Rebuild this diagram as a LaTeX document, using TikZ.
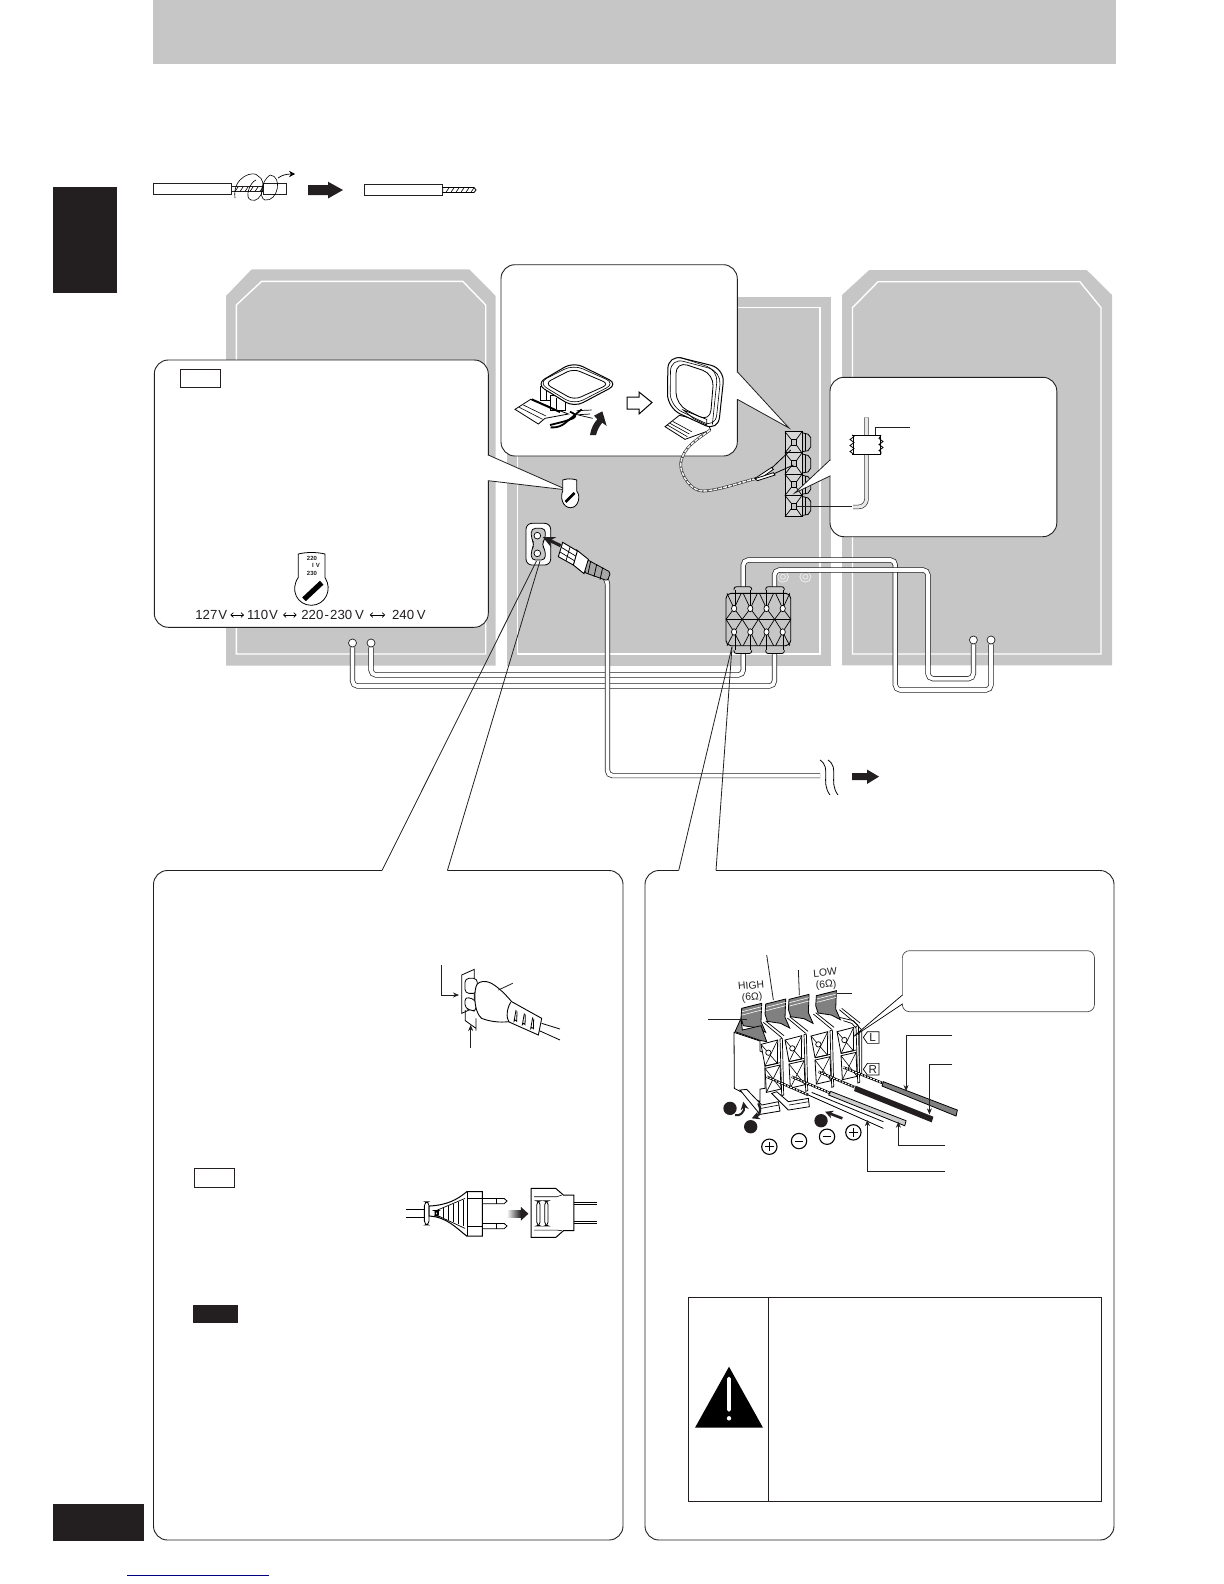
\documentclass[tikz,border=0pt]{standalone}
\usepackage{fontspec}
\setmainfont{Liberation Sans}
\usetikzlibrary{arrows.meta,decorations.pathmorphing}
\definecolor{panelgray}{HTML}{C6C6C6}
\definecolor{inkblack}{HTML}{231F20}
\begin{document}
\begin{tikzpicture}[x=0.5pt,y=-0.5pt,line cap=butt,
    box/.style={draw=inkblack,line width=0.45pt,fill=white,rounded corners=7pt},
    wedge/.style={draw=inkblack,line width=0.4pt},
    cable/.style={draw=inkblack,line width=0.35pt,double=white,double distance=1.9pt,rounded corners=2.5pt},
    leader/.style={draw=inkblack,line width=0.4pt},
    tagbox/.style={draw=inkblack,line width=0.5pt,fill=white},
    bigarrow/.style={fill=inkblack,draw=none},
    jack/.style={circle,draw=inkblack,fill=white,line width=0.35pt,inner sep=0pt,minimum size=4pt},
    valtext/.style={inner sep=0pt,font=\fontsize{6.6}{8}\selectfont,text=inkblack},
    termtext/.style={inner sep=0pt,font=\fontsize{3}{3.5}\bfseries\selectfont,text=inkblack,align=center},
    tagtext/.style={inner sep=0pt,font=\fontsize{5.8}{6.5}\selectfont,text=inkblack},
    ohmtext/.style={inner sep=0pt,rotate=5,align=center,font=\fontsize{5.2}{5.8}\selectfont,text=inkblack},
    numdot/.style={fill=inkblack,draw=none},
    third/.style={x=0.1667pt,y=-0.1667pt},
    headtip/.style={-{Stealth[length=3pt,width=2.5pt]}}]
\useasboundingbox (0,0) rectangle (1224,1584);
% page bands
\fill[panelgray] (153,0) rectangle (1116,64);
\fill[inkblack] (52.5,187) rectangle (117,293);
\fill[inkblack] (52.5,1504) rectangle (143.5,1541);
\draw[blue!50!black,line width=0.5pt] (127,1575) -- (269,1575);

% stripping the wire
\draw[tagbox,line width=0.4pt] (153,183.3) rectangle (231.7,194.3);
\draw[tagbox,line width=0.4pt] (231.7,186.7) rectangle (263.3,191.7);
\foreach \i in {0,...,5} \draw[line width=0.3pt] (235+\i*5,191.5) -- (238+\i*5,187);
\draw[tagbox,line width=0.4pt] (263.3,183.3) rectangle (286.7,194.3);
\draw[line width=0.3pt] (235,198) .. controls (232,176) and (255,170) .. (258,176);
\draw[line width=0.3pt] (258,176) .. controls (268,180) and (262,204) .. (251,200) .. controls (244,198) and (250,182) .. (256,180);
\draw[line width=0.3pt] (270,175) .. controls (283,176) and (278,202) .. (265,200) .. controls (258,198) and (262,180) .. (270,175);
\draw[line width=0.35pt,-{Stealth[length=3pt,width=3.2pt]}] (278,178) .. controls (282,175) and (287,174) .. (295,174);
\fill[bigarrow] (308,185) -- (328,185) -- (328,181.7) -- (343,190) -- (328,198.5) -- (328,195) -- (308,195) -- cycle;
\draw[tagbox,line width=0.4pt] (364.3,184.3) rectangle (442.7,195.3);
\draw[line width=0.4pt,fill=white] (442.7,187.5) -- (474,187.5) -- (476,190) -- (474,192.5) -- (442.7,192.5) -- cycle;
\foreach \i in {0,...,5} \draw[line width=0.3pt] (446+\i*5,192.3) -- (449+\i*5,187.7);

% speakers and unit
\fill[panelgray] (226,296) -- (251.7,269.3) -- (469.3,269.3) -- (495.7,296) -- (495.7,665.6) -- (226,665.6) -- cycle;
\draw[white,line width=0.7pt] (236.3,305) -- (261.7,281.3) -- (462.7,281.3) -- (485.7,305) -- (485.7,654) -- (236.3,654) -- cycle;
\fill[panelgray] (507,297.3) rectangle (831,666);
\draw[white,line width=0.7pt] (517.2,307.3) rectangle (820,654);
\fill[panelgray] (842,295) -- (869.3,270) -- (1086.7,270) -- (1112,295) -- (1112,665.3) -- (842,665.3) -- cycle;
\draw[white,line width=0.7pt] (852.5,307.7) -- (878,281.7) -- (1079.8,281.7) -- (1101,307.7) -- (1101,654) -- (852.5,654) -- cycle;
\foreach \x in {783,805.4} \draw[white!70!panelgray,line width=0.4pt] (\x,576.7) circle (2.5) (\x,576.7) circle (5.5);

% speaker jacks and cables
\coordinate (TL) at (743.3,588);
\coordinate (TR) at (774.4,588);
\coordinate (BL) at (743.3,654);
\coordinate (BR) at (774.4,654);
\node[jack] (jackRa) at (973.4,640) {};
\node[jack] (jackRb) at (991,640) {};
\node[jack] (jackLa) at (352.5,643) {};
\node[jack] (jackLb) at (371,643) {};
\draw[cable] (TL) -- (743.3,560) -- (895.3,560) -- (895.3,690) -- (991,690) -- (jackRb);
\draw[cable] (TR) -- (774.4,570) -- (928,570) -- (928,678.7) -- (973.4,678.7) -- (jackRa);
\draw[cable] (BL) -- (743.3,675) -- (371,675) -- (jackLb);
\draw[cable] (BR) -- (774.4,686) -- (352.5,686) -- (jackLa);

% speaker block
\draw[line width=0.45pt,fill=panelgray,rounded corners=2.5pt] (726,593.3) rectangle (790.7,645.7);
\draw[line width=0.4pt] (726,619.3) -- (790.7,619.3);
\foreach \c in {0,...,3} {
  \pgfmathsetmacro{\cx}{726+16.2*\c}
  \foreach \e/\f/\g in {593.3/608.5/619.3,645.7/632/619.3} {
    \draw[line width=0.35pt] (\cx+1,\e) -- (\cx+8.1,\f) -- (\cx+15.2,\e) (\cx,\g) -- (\cx+8.1,\f) -- (\cx+16.2,\g);
    \draw[line width=0.35pt,fill=white] (\cx+8.1,\f) ellipse (2.6 and 3.2);
  }
}
\foreach \x/\w in {735/15.7,766.7/16.6} {
  \draw[line width=0.4pt,fill=panelgray,rounded corners=1.2pt] (\x-1,590) -- (\x-1,586.7) -- (\x+\w+1,586.7) -- (\x+\w+1,590);
  \draw[line width=0.4pt,fill=panelgray,rounded corners=1.2pt] (\x-1,650) -- (\x-1,653.5) -- (\x+\w+1,653.5) -- (\x+\w+1,650);
  \draw[line width=0.35pt] (\x,590) -- (\x,605) (\x+\w,590) -- (\x+\w,605) (\x,650) -- (\x,635) (\x+\w,650) -- (\x+\w,635);
}

% antenna terminals
\foreach \r in {0,...,3} {
  \pgfmathsetmacro{\cy}{431.7+21.25*\r}
  \draw[line width=0.4pt,fill=panelgray] (802,\cy+1) -- (808,\cy+2.5) -- (810.8,\cy+6) -- (810.8,\cy+15) -- (808,\cy+19) -- (802,\cy+20) -- cycle;
  \draw[line width=0.3pt] (805,\cy+2) -- (805,\cy+19.5);
  \draw[line width=0.5pt,fill=panelgray!70!white] (785,\cy) rectangle (802,\cy+21.25);
  \draw[line width=0.35pt] (785,\cy) -- (791,\cy+7.5) (802,\cy) -- (796.5,\cy+7.5) (785,\cy+21.25) -- (791,\cy+13.5) (802,\cy+21.25) -- (796.5,\cy+13.5);
  \draw[line width=0.35pt,fill=panelgray] (791,\cy+7.5) rectangle (796.5,\cy+13.5);
}

% mains socket and cord
\draw[cable] (597,570) -- (607.5,580) -- (607.5,775.6) -- (820,775.6);
\begin{scope}[shift={(520,515)},third]
  \draw[line width=0.4pt,fill=white,rounded corners=3pt] (18,25) rectangle (92,150);
  \draw[line width=0.4pt,fill=panelgray,rounded corners=2pt] (34,40) -- (76,40) -- (76,72) -- (64,88) -- (76,104) -- (76,135) -- (34,135) -- (34,104) -- (44,88) -- (34,72) -- cycle;
  \draw[line width=0.35pt,fill=white] (52,62) circle (10) (52,115) circle (10);
  \draw[line width=0.4pt,fill=black!35,rounded corners=1pt] (200,133) -- (272,172) -- (262,197) -- (192,172) -- cycle;
  \foreach \d in {0,18,36} \draw[line width=0.4pt] (212+\d,138+\d*0.55) -- (204+\d,176+\d*0.5);
  \draw[line width=0.45pt,fill=white] (170,105) -- (205,133) -- (192,176) -- (160,150) -- cycle;
  \draw[line width=0.45pt,fill=white] (128,82) -- (172,108) -- (160,150) -- (115,125) -- cycle;
  \draw[line width=0.35pt] (124,97) -- (167,123) (120,111) -- (163,137) (150,96) -- (138,137);
  \draw[line width=1.6pt,inkblack,-{Stealth[length=6pt,width=5.5pt]}] (122,92) -- (68,66);
\end{scope}
\fill[white] (818,758) -- (830,758) -- (840,795) -- (828,795) -- cycle;
\draw[line width=0.4pt] (820,760) .. controls (832,768) and (820,782) .. (830,795);
\draw[line width=0.4pt] (828,760) .. controls (840,768) and (828,782) .. (838,795);
\fill[bigarrow] (852,773) -- (867,773) -- (867,769.5) -- (879,776.6) -- (867,784) -- (867,780) -- (852,780) -- cycle;

% wedges to the lower panels
\draw[wedge] (382,870.5) -- (536.5,561);
\draw[wedge] (447.4,870.5) -- (540,561);
\draw[wedge] (678.7,870.5) -- (732,646.7);
\draw[wedge] (716,870.5) -- (732,646.7);

% upper callouts
\draw[box] (501,456) rectangle (737.3,264.7);
\filldraw[wedge,fill=white] (737.3,371.7) -- (789,428) -- (737.3,399.3);
\draw[white,line width=1pt] (737.3,372.5) -- (737.3,398.5);
\draw[box] (154.3,360) rectangle (488.3,627.3);
\filldraw[wedge,fill=white] (488.3,455) -- (567.3,490) -- (488.3,480.7);
\draw[white,line width=1pt] (488.3,456) -- (488.3,480);
\draw[box] (830,377.3) rectangle (1056.8,536.7);
\filldraw[wedge,fill=white] (830,460) -- (794.7,493) -- (830,476);
\draw[white,line width=1pt] (830,461) -- (830,475);
\draw[tagbox] (180.3,369.3) rectangle (220.7,387.7);

% voltage selector
\draw[line width=0.4pt,fill=white] (562.7,480) .. controls (567,478.5) and (572,478.5) .. (576.7,480) -- (576.7,491) .. controls (581,496) and (578.5,507.7) .. (570.5,507.7) .. controls (562.5,507.7) and (560,497) .. (562.7,491) -- cycle;
\draw[line width=1.3pt] (565.5,502) -- (574.5,493);
\draw[line width=0.4pt,fill=white] (298.3,554) .. controls (306,552) and (317,552) .. (325,554) -- (325,577.5) .. controls (333,590) and (325,605.3) .. (311.3,605.3) .. controls (297.5,605.3) and (289.5,590) .. (298.3,577.5) -- cycle;
\draw[line width=2.6pt] (304,599.3) -- (321.7,582.7);
\node[termtext] (selhigh) at (312,558.7) {220};
\node[termtext] (selmid) at (316,565.7) {I\,\,V};
\node[termtext] (sellow) at (312,573.3) {230};
\node[valtext,anchor=west] (volta) at (195,615) {127\kern0.5pt V};
\node[valtext,anchor=west] (voltb) at (246.7,615) {110\kern0.5pt V};
\node[valtext,anchor=west] (voltc) at (301,615) {220\kern0.6pt-\kern0.6pt230\kern1.4pt V};
\node[valtext,anchor=west] (voltd) at (391.7,615) {240\kern1.4pt V};
\foreach \a/\b/\s/\t in {volta/voltb/1.4/1.4,voltb/voltc/2.4/2.2,voltc/voltd/2.8/3.3}
  \draw[line width=0.35pt,{To[length=1.6pt,width=2.6pt]}-{To[length=1.6pt,width=2.6pt]}] ([xshift=\s pt]\a.east) -- ([xshift=-\t pt]\b.west);

% flat loop antenna
\begin{scope}[shift={(510,350)},third]
  \draw[line width=0.4pt,fill=white] (15,178) -- (62,148) -- (175,192) -- (105,205) -- (85,222) -- cycle;
  \draw[line width=0.3pt] (28,172) -- (98,208) (40,165) -- (108,198);
  \draw[line width=0.35pt,fill=white] (90,110) rectangle (130,150);
  \draw[line width=0.35pt,fill=white] (120,135) rectangle (165,180);
  \draw[line width=0.3pt] (108,120) -- (108,150) (140,145) -- (140,178);
  \draw[line width=1pt] (65,148) -- (150,186);
  \draw[line width=0.9pt,rounded corners=3pt] (122,232) -- (150,232) -- (182,205) -- (215,178);
  \draw[line width=0.9pt,rounded corners=3pt] (120,225) -- (172,212) -- (205,198) -- (180,185);
  \draw[line width=0.35pt] (200,182) -- (245,180) (205,195) -- (248,205) (190,195) -- (240,192);
  \draw[line width=0.5pt,fill=white,rounded corners=5pt] (78,102) -- (190,36) -- (324,102) -- (192,172) -- cycle;
  \draw[line width=0.3pt,rounded corners=5pt] (84,98) -- (190,44) -- (316,100) -- (192,164) -- cycle;
  \draw[line width=0.4pt,fill=white,rounded corners=3.5pt] (104,100) -- (190,56) -- (298,102) -- (192,150) -- cycle;
  \fill[inkblack] (240,255) .. controls (244,232) and (252,218) .. (262,208) -- (252,197) -- (277,184) -- (290,228) -- (277,218) .. controls (268,228) and (262,240) .. (258,255) -- cycle;
\end{scope}
\draw[line width=0.5pt,fill=white] (627,397) -- (639,397) -- (639,392) -- (652,402.5) -- (639,414) -- (639,409) -- (627,409) -- cycle;

% standing loop antenna and its lead
\begin{scope}[shift={(660,350)},third]
  \draw[line width=0.4pt,fill=white] (15,230) -- (58,196) -- (140,215) -- (152,240) -- (75,268) -- cycle;
  \draw[line width=0.3pt] (22,225) -- (82,260) (30,220) -- (88,252) (38,214) -- (95,245);
  \draw[line width=0.5pt,fill=white,rounded corners=7pt] (24,14) -- (194,56) -- (174,244) -- (22,174) -- cycle;
  \draw[line width=0.3pt,rounded corners=6.5pt] (32,24) -- (184,64) -- (166,234) -- (30,168) -- cycle;
  \draw[line width=0.3pt,rounded corners=6pt] (60,22) -- (174,60) -- (157,224);
  \draw[line width=0.4pt,fill=white,rounded corners=6pt] (48,34) -- (162,72) -- (150,216) -- (48,164) -- cycle;
  \draw[line width=0.35pt] (70,180) -- (140,208) -- (140,225) -- (100,205) -- cycle;
  \draw[line width=1.3pt,inkblack] (150,240) .. controls (110,270) and (70,290) .. (62,340) .. controls (60,375) and (95,425) .. (130,423) .. controls (180,420) and (230,400) .. (290,385);
  \draw[line width=0.8pt,panelgray!30!white,dash pattern=on 2pt off 0.5pt] (150,240) .. controls (110,270) and (70,290) .. (62,340) .. controls (60,375) and (95,425) .. (130,423) .. controls (180,420) and (230,400) .. (290,385);
  \draw[line width=0.4pt,fill=white] (285,385) -- (335,352) -- (340,358) -- (295,390) -- cycle;
  \draw[line width=0.4pt,fill=white] (285,386) -- (340,368) -- (345,375) -- (292,392) -- cycle;
  \draw[line width=0.4pt] (335,354) -- (392,300) (342,371) -- (400,345);
\end{scope}

% FM wire
\draw[draw=inkblack,line width=0.3pt,double=panelgray!40!white,double distance=1.6pt,rounded corners=4pt] (866.5,417.3) -- (866.5,507) -- (853,507);
\draw[leader,line width=0.5pt] (796.6,506.7) -- (852,506.7);
\draw[line width=0.3pt,fill=white] (853,435) -- (880,435) -- (880,454) -- (853,454) -- cycle;
\draw[line width=0.4pt,decorate,decoration={zigzag,amplitude=1pt,segment length=3pt}] (852,435) -- (852,454) (881,435) -- (881,454);
\draw[line width=0.3pt] (852,435) -- (881,435) (852,454) -- (881,454);
\draw[leader] (875,435) -- (875,427.3) -- (910,427.3);

% lower panels
\draw[box] (382,870.5) -- (153.5,870.5) -- (153.5,1540) -- (623,1540) -- (623,870.5) -- (447.4,870.5);
\draw[box,fill=none] (678.7,870.5) -- (645,870.5) -- (645,1540) -- (1114,1540) -- (1114,870.5) -- (716,870.5);
\draw[tagbox] (194.3,1168.3) rectangle (234.7,1187.7);
\fill[inkblack] (192.7,1305) rectangle (238,1322.7);

% socket plug
\begin{scope}[shift={(440,960)},third]
  \draw[line width=0.4pt] (65,45) -- (103,28) -- (103,143) -- (65,160) -- cycle;
  \draw[line width=0.4pt,fill=white,rounded corners=2pt] (75,55) -- (112,55) -- (112,100) -- (75,100) -- cycle;
  \draw[line width=0.4pt,fill=white,rounded corners=2pt] (75,110) -- (108,120) -- (108,155) -- (92,150) -- (75,145) -- cycle;
  \draw[line width=0.45pt,fill=white] (108,80) .. controls (110,68) and (125,62) .. (140,65) .. controls (160,68) and (190,95) .. (215,125) -- (305,175) -- (295,225) -- (205,185) .. controls (180,188) and (150,185) .. (125,175) .. controls (105,160) and (100,110) .. (108,80) -- cycle;
  \draw[line width=0.45pt] (212,127) .. controls (200,145) and (198,175) .. (207,186);
  \foreach \x/\y in {228/150,253/160,278/172} \draw[line width=0.4pt] (\x,\y) -- (\x-6,\y+34) arc (180:360:4) -- (\x+3,\y+4);
  \draw[line width=0.4pt] (305,190) -- (360,207) (298,212) -- (360,240);
  \draw[leader,headtip] (4,15) -- (4,105) -- (57,105);
  \draw[leader] (218,70) -- (175,90);
  \draw[leader,headtip] (92,263) -- (92,195);
  \draw[line width=0.4pt] (76,150) -- (76,182) -- (108,205) (108,175) -- (108,212);
\end{scope}

% adapter
\begin{scope}[shift={(160,930)},third]
  \draw[line width=0.4pt] (738,838) -- (795,838) (738,862) -- (795,862);
  \draw[line width=0.4pt,fill=white,rounded corners=2pt] (793,815) rectangle (807,885);
  \draw[line width=0.5pt,fill=white] (807,828) .. controls (860,825) and (890,810) .. (920,785) -- (967,785) -- (967,918) -- (920,918) .. controls (890,895) and (860,860) .. (807,858) -- cycle;
  \draw[line width=0.4pt] (922,785) -- (922,918) (922,806) -- (967,806) (922,888) -- (967,888);
  \draw[line width=0.35pt] (825,843) -- (915,805) (825,853) -- (915,895);
  \foreach \x in {835,850,...,910} \draw[line width=0.35pt] (\x,{845-(\x-825)*0.42}) -- (\x,{852+(\x-825)*0.42});
  \draw[line width=0.5pt,fill=white,rounded corners=1.5pt] (825,842) rectangle (833,858);
  \foreach \y in {813,888} {
    \draw[line width=0.4pt,fill=white] (967,\y-8) -- (1032,\y-8) -- (1041,\y) -- (1032,\y+8) -- (967,\y+8) -- cycle;
    \draw[line width=0.3pt] (1010,\y-8) -- (1010,\y+8);
  }
  \shade[left color=white,right color=inkblack,shading angle=90] (1040,840) -- (1082,840) -- (1082,862) -- (1040,862) -- cycle;
  \fill[inkblack] (1082,830) -- (1105,851) -- (1082,872) -- cycle;
  \draw[line width=0.5pt,fill=white] (1113,775) -- (1187,775) -- (1210,795) -- (1241,795) -- (1241,902) -- (1210,902) -- (1187,922) -- (1113,922) -- cycle;
  \draw[line width=0.3pt] (1122,800) -- (1190,800) -- (1205,795) (1122,900) -- (1190,900) -- (1205,902);
  \foreach \x in {1135,1159} \draw[line width=0.4pt,rounded corners=2pt] (\x-5,812) rectangle (\x+5,888);
  \draw[line width=0.4pt] (1241,818) -- (1310,818) (1241,823) -- (1310,823) (1241,875) -- (1310,875) (1241,880) -- (1310,880);
\end{scope}

% speaker terminals
\begin{scope}[shift={(680,930)},third]
  \draw[line width=0.35pt] (478,262) -- (520,272) -- (545,300) -- (545,430) -- (525,430);
  \draw[line width=0.35pt] (490,272) -- (515,280) -- (538,305) -- (538,430);
  % columns, read from a closer crop
  \begin{scope}[shift={(135,165)}]
    \draw[line width=0.4pt,fill=white] (27,142) -- (105,168) -- (105,198) -- (120,205) -- (120,310) -- (105,312) -- (105,350) -- (28,310) -- cycle;
    \foreach \dx/\dy in {0/0,72/-13,150/-25,228/-38} {
      \begin{scope}[shift={(\dx,\dy)}]
        \draw[line width=0.4pt,fill=white] (108,178) -- (158,165) -- (157,235) -- (120,243) -- cycle;
        \draw[line width=0.3pt] (108,178) -- (157,235) (158,165) -- (120,243);
        \draw[line width=0.4pt,fill=white] (120,250) -- (165,240) -- (168,312) -- (124,322) -- cycle;
        \draw[line width=0.3pt] (120,250) -- (168,312) (165,240) -- (124,322);
        \draw[line width=0.35pt,fill=white] (130,203) circle (8);
        \draw[line width=0.35pt] (120,243) -- (165,233);
        \draw[line width=0.35pt,fill=white] (165,162) -- (172,160) -- (176,330) -- (170,332) -- cycle;
        \draw[line width=0.35pt] (115,112) -- (170,158) (122,108) -- (177,152);
      \end{scope}
    }
    \foreach \dx/\dy in {0/0,72/-13,142/-27,224/-38} {
      \begin{scope}[shift={(\dx,\dy)}]
        \draw[line width=0.4pt,fill=black!50] (50,70) -- (110,55) -- (108,110) -- (122,142) -- (95,128) -- (55,122) -- (48,100) -- cycle;
        \draw[line width=0.3pt,white] (51,80) -- (110,65) (51,90) -- (110,75);
      \end{scope}
    }
    \draw[line width=0.4pt,fill=black!50] (48,100) -- (30,140) -- (105,166) -- (125,170) -- (108,122) -- (52,135) -- cycle;
  \end{scope}
  % feet
  \draw[line width=0.4pt,fill=white] (180,480) -- (200,478) -- (245,525) -- (295,515) -- (300,543) -- (240,553) -- cycle;
  \draw[line width=0.3pt] (243,535) -- (297,525);
  \draw[line width=0.4pt,fill=white] (275,490) -- (290,485) -- (325,515) -- (385,505) -- (388,530) -- (325,540) -- cycle;
  \draw[line width=0.3pt] (327,525) -- (386,515);
  % conductors
  \foreach \a/\b/\c/\d in {260/440/385/495,335/440/450/489,415/425/525/472,490/412/610/460} {
    \draw[line width=1.2pt] (\a,\b) -- (\c,\d);
    \draw[line width=0.55pt,white,dash pattern=on 0.9pt off 0.7pt] (\a,\b) -- (\c,\d);
  }
  \draw[line width=0.4pt] (385,495) -- (610,595) (395,487) -- (610,575);
  \draw[line width=0.4pt,fill=black!20] (452,484) -- (678,572) -- (674,587) -- (446,495) -- cycle;
  \draw[line width=0.4pt,fill=black!50] (610,455) -- (832,540) -- (828,558) -- (606,468) -- cycle;
  \fill[inkblack] (527,467) -- (760,560) -- (755,577) -- (522,483) -- cycle;
  % numbers and arrows
  \fill[numdot] (150,535) circle (20) (212,590) circle (20) (423,572) circle (20);
  \draw[line width=1pt,-{Stealth[length=4pt,width=4pt]},inkblack] (165,555) .. controls (180,560) and (195,545) .. (190,515);
  \draw[line width=1.2pt,-{Stealth[length=4pt,width=4pt]},inkblack] (235,520) .. controls (245,535) and (240,555) .. (215,565);
  \draw[line width=1.3pt,-{Stealth[length=4pt,width=4pt]},inkblack] (487,565) -- (435,545);
  \foreach \x/\y in {268/650,520/607} {
    \draw[line width=0.55pt] (\x,\y) circle (23);
    \draw[line width=0.55pt] (\x-13,\y) -- (\x+13,\y) (\x,\y-13) -- (\x,\y+13);
  }
  \foreach \x/\y in {357/633,441/620} {
    \draw[line width=0.55pt] (\x,\y) circle (23);
    \draw[line width=0.55pt] (\x-13,\y) -- (\x+13,\y);
  }
  % channel tags
  \draw[line width=0.35pt,fill=white] (550,322) -- (562,305) -- (597,305) -- (597,340) -- (562,340) -- cycle;
  \node[tagtext] (tagL) at (578,322) {L};
  \draw[line width=0.35pt,fill=white] (550,418) -- (562,400) -- (597,400) -- (597,435) -- (562,435) -- cycle;
  \node[tagtext] (tagR) at (578,418) {R};
  \node[ohmtext] (labHigh) at (215,186) {HIGH\\(6Ω)};
  \node[ohmtext] (labLow) at (437,148) {LOW\\(6Ω)};
  % callout on the terminals
  \draw[line width=0.35pt,draw=black!70,fill=white,rounded corners=3.5pt] (667,62) rectangle (1243,245);
  \filldraw[line width=0.35pt,fill=white] (667,195) -- (520,320) -- (667,222);
  \draw[white,line width=0.7pt] (667,197) -- (667,220);
  % leaders
  \draw[leader] (85,268) -- (200,268);
  \draw[leader] (260,75) -- (280,210);
  \draw[leader] (355,120) -- (358,195);
  \draw[leader] (515,190) -- (470,190);
  \draw[leader,headtip] (817,315) -- (678,315) -- (678,483);
  \draw[leader,headtip] (817,402) -- (748,402) -- (748,553);
  \draw[leader,headtip] (795,647) -- (655,647) -- (655,575);
  \draw[leader,headtip] (795,723) -- (562,723) -- (562,570);
\end{scope}

% warning box
\draw[line width=0.5pt,inkblack] (688,1297) rectangle (1101,1501);
\draw[line width=0.5pt,inkblack] (768.5,1297) -- (768.5,1501);
\fill[black] (729,1366.7) -- (763,1427.7) -- (695,1427.7) -- cycle;
\fill[white,rounded corners=0.8pt] (727.2,1376.7) rectangle (730.8,1411.7);
\fill[white] (729,1418.3) circle (2.2);
\end{tikzpicture}
\end{document}
